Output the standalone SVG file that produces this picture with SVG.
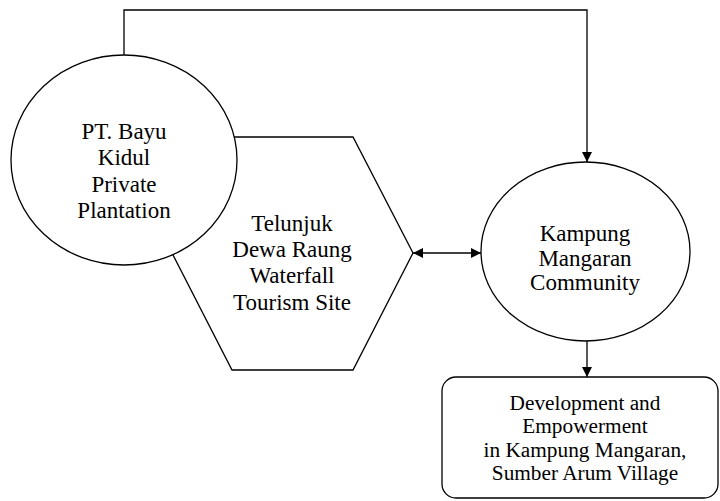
<svg xmlns="http://www.w3.org/2000/svg" width="720" height="501" viewBox="0 0 720 501" font-family="Liberation Serif, Times New Roman, serif">
<style>
.s{fill:#fff;stroke:#000;stroke-width:1.3}
.c{fill:none;stroke:#000;stroke-width:1.3}
.t{font-family:'Liberation Serif',serif;font-size:23px;fill:#000;text-anchor:middle}
.b{font-family:'Liberation Serif',serif;font-size:21.3px;fill:#000;text-anchor:middle}
</style>
<defs>
<marker id="ah" viewBox="0 0 10 10" refX="10" refY="5" markerWidth="10" markerHeight="10" markerUnits="userSpaceOnUse" orient="auto-start-reverse">
<path d="M0,0 L10,5 L0,10 Z" fill="#000"/>
</marker>
</defs>
<g id="connectors">
<path class="c" d="M124,55 V10 H587 V162" marker-end="url(#ah)"/>
<path class="c" d="M413,253 H481" marker-start="url(#ah)" marker-end="url(#ah)"/>
<path class="c" d="M587,341 V377" marker-end="url(#ah)"/>
</g>
<g id="waterfall">
<polygon class="s" points="232,137 353,137 413,253 353,370 232,370 172,253"/>
<text class="t" x="292" y="231">Telunjuk</text>
<text class="t" x="292" y="257">Dewa Raung</text>
<text class="t" x="292" y="283">Waterfall</text>
<text class="t" x="292" y="310">Tourism Site</text>
</g>
<g id="plantation">
<ellipse class="s" cx="124" cy="160" rx="113" ry="105"/>
<text class="t" x="124" y="139">PT. Bayu</text>
<text class="t" x="124" y="165">Kidul</text>
<text class="t" x="124" y="192">Private</text>
<text class="t" x="124" y="218">Plantation</text>
</g>
<g id="community">
<ellipse class="s" cx="585.5" cy="251.5" rx="104.5" ry="89.5"/>
<text class="t" x="585" y="241">Kampung</text>
<text class="t" x="585" y="266">Mangaran</text>
<text class="t" x="585" y="290">Community</text>
</g>
<g id="development">
<rect class="s" x="442" y="377" width="276" height="121" rx="14"/>
<text class="b" x="585" y="410">Development and</text>
<text class="b" x="585" y="433">Empowerment</text>
<text class="b" x="585" y="457">in Kampung Mangaran,</text>
<text class="b" x="585" y="480">Sumber Arum Village</text>
</g>
</svg>
